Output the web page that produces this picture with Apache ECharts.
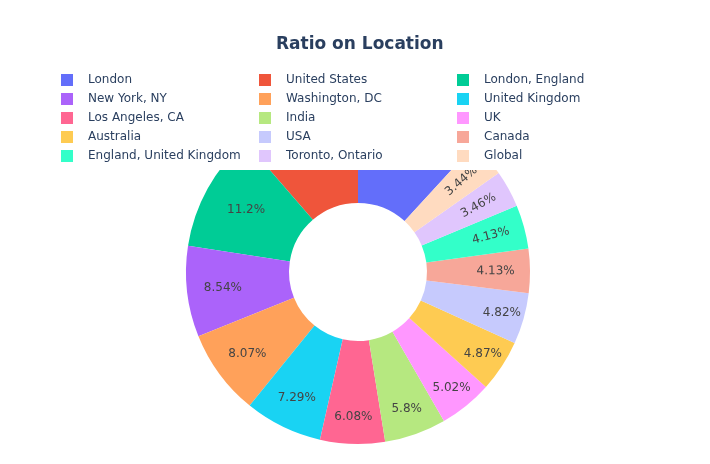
<!DOCTYPE html>
<html><head><meta charset="utf-8">
<script src="https://cdn.jsdelivr.net/npm/echarts@6/dist/echarts.min.js"></script>
<style>html,body{margin:0;padding:0;background:#fff}#chart{width:710px;height:464px}</style>
</head><body><div id="chart"></div>
<script>
const titleText = 'Ratio on Location';
const categories = ['London', 'United States', 'London, England', 'New York, NY', 'Washington, DC',
  'United Kingdom', 'Los Angeles, CA', 'India', 'UK', 'Australia', 'USA', 'Canada',
  'England, United Kingdom', 'Toronto, Ontario', 'Global'];
const shares = [11.8, 11.35, 11.2, 8.54, 8.07, 7.29, 6.08, 5.8, 5.02, 4.87, 4.82, 4.13, 4.13, 3.46, 3.44];
const colors = ['#636efa', '#ef553b', '#00cc96', '#ab63fa', '#ffa15a', '#19d3f3', '#ff6692', '#b6e880',
  '#ff97ff', '#fecb52', '#c6cafd', '#f7a799', '#33ffc9', '#e0c6fd', '#ffdbc0'];

const FONT = 'DejaVu Sans';
const CX = 358, CY = 272, R0 = 69, R = 172;
const total = shares.reduce((a, b) => a + b, 0);
const startAngle = 90 - 360 * shares[0] / total;

// slice geometry (counter-clockwise from startAngle), used to place labels like plotly does
const geom = [];
let acc = startAngle;
shares.forEach(v => { const a = 360 * v / total; geom.push({ mid: acc + a / 2, half: a / 2 }); acc += a; });
const isRadial = i => shares[i] < 4.5;

const pieData = categories.map((name, i) => ({
  name, value: shares[i], itemStyle: { color: colors[i] },
  label: { rotate: isRadial(i) ? 'radial' : 0 }
}));

const legendCol = c => categories.filter((_, i) => i % 3 === c);
const legendBase = {
  orient: 'vertical', top: 74, padding: 0, itemGap: 7,
  itemWidth: 32, itemHeight: 12, icon: 'path://M0,0L10,0L10,10L0,10Z',
  textStyle: { fontFamily: FONT, fontSize: 12, color: '#2a3f5f' },
  selectedMode: false
};

const chart = echarts.init(document.getElementById('chart'), null, { renderer: 'canvas' });
chart.setOption({
  animation: false,
  backgroundColor: '#fff',
  title: {
    text: titleText, left: 276, top: 36, padding: 0,
    textStyle: { fontFamily: FONT, fontSize: 17, fontWeight: 'bold', color: '#2a3f5f' }
  },
  legend: [
    Object.assign({}, legendBase, { left: 61, data: legendCol(0) }),
    Object.assign({}, legendBase, { left: 259, data: legendCol(1) }),
    Object.assign({}, legendBase, { left: 457, data: legendCol(2) })
  ],
  graphic: [{
    type: 'rect', z: 3, silent: true,
    shape: { x: 0, y: 0, width: 710, height: 170 },
    style: { fill: '#fff' }
  }],
  series: [{
    type: 'pie', z: 2, center: [CX, CY], radius: [R0, R],
    clockwise: false, startAngle: startAngle,
    avoidLabelOverlap: false, silent: true,
    itemStyle: { borderWidth: 0 },
    label: {
      show: true, position: 'inside', fontFamily: FONT, fontSize: 12, color: '#444',
      formatter: p => parseFloat(Number(p.value).toPrecision(3)) + '%'
    },
    labelLine: { show: false },
    labelLayout: p => {
      const i = p.dataIndex, g = geom[i];
      const r = isRadial(i) ? 0.8 * R : R / (1 + Math.sin(g.half * Math.PI / 180));
      const t = g.mid * Math.PI / 180;
      return { x: CX + r * Math.cos(t), y: CY - r * Math.sin(t), align: 'center', verticalAlign: 'middle' };
    },
    data: pieData
  }]
});
</script></body></html>
